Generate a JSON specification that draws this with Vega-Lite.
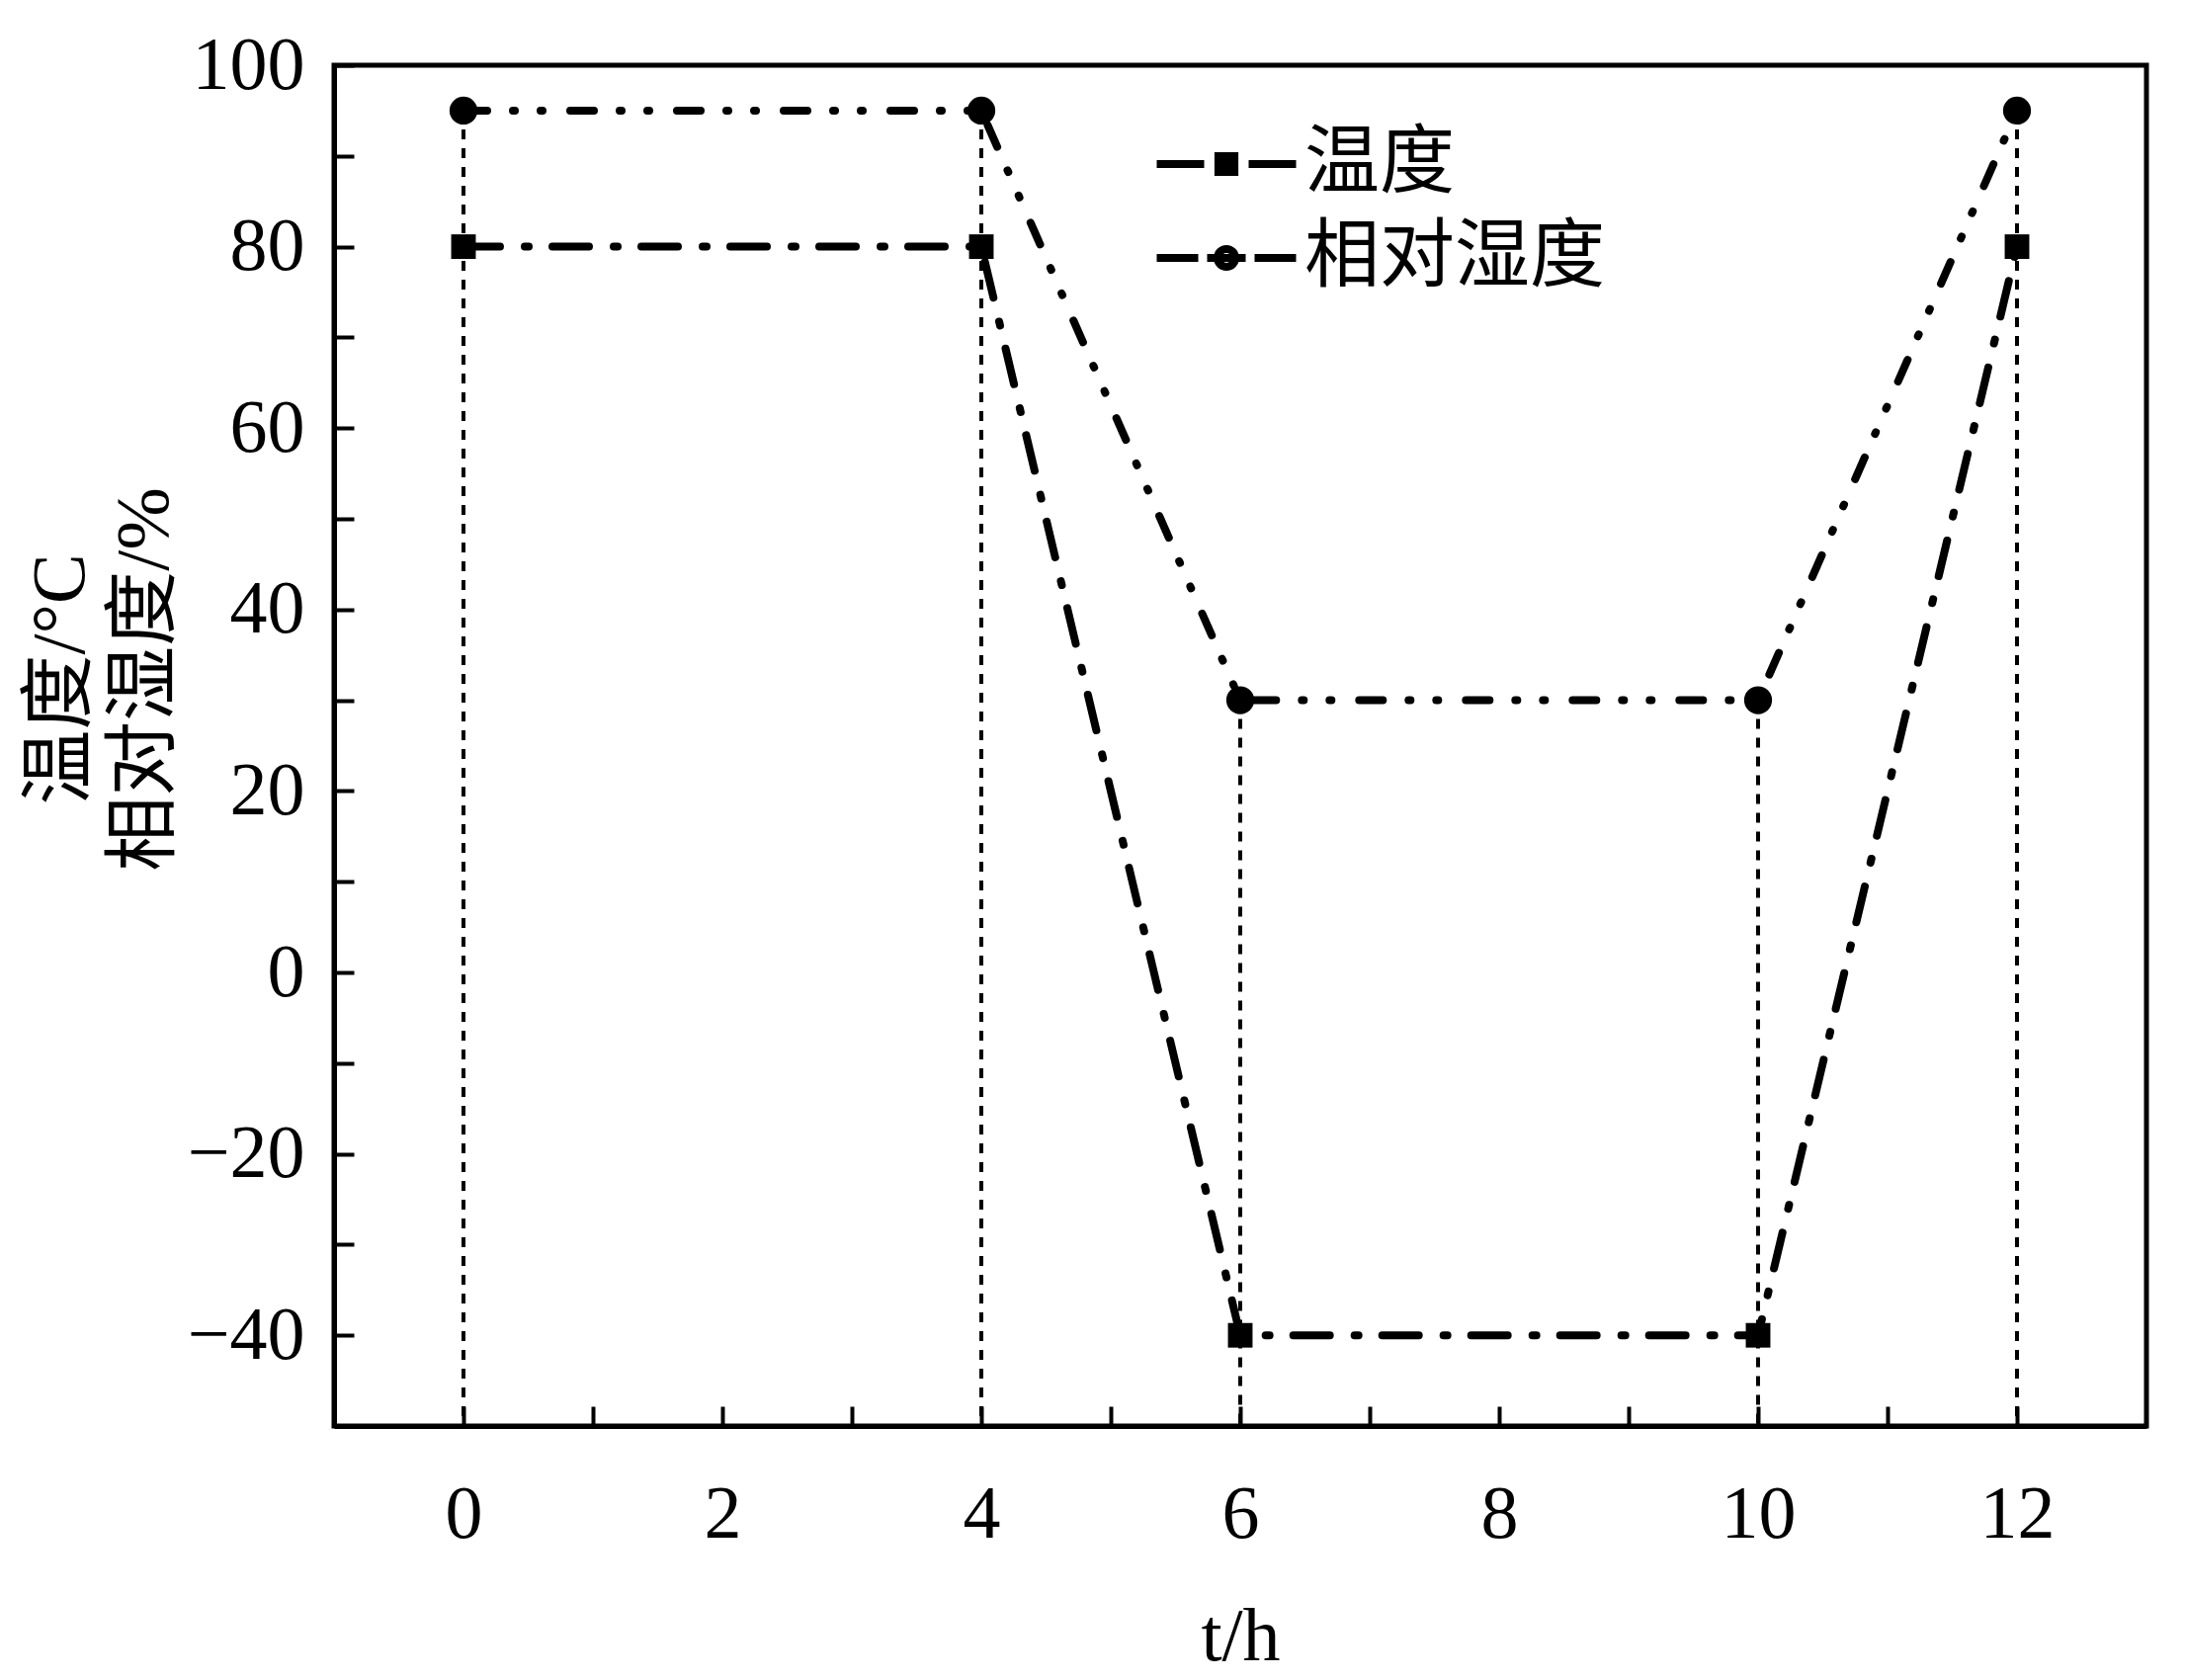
{
  "$schema": "https://vega.github.io/schema/vega-lite/v6.json",
  "autosize": {"type": "none"},
  "padding": {"left": 338, "top": 66, "right": 39, "bottom": 257},
  "width": 1834,
  "height": 1377,
  "background": "white",
  "data": {
    "values": [
      {"t": 0, "series": "温度", "value": 80},
      {"t": 4, "series": "温度", "value": 80},
      {"t": 6, "series": "温度", "value": -40},
      {"t": 10, "series": "温度", "value": -40},
      {"t": 12, "series": "温度", "value": 80},
      {"t": 0, "series": "相对湿度", "value": 95},
      {"t": 4, "series": "相对湿度", "value": 95},
      {"t": 6, "series": "相对湿度", "value": 30},
      {"t": 10, "series": "相对湿度", "value": 30},
      {"t": 12, "series": "相对湿度", "value": 95}
    ]
  },
  "encoding": {
    "x": {
      "field": "t", "type": "quantitative",
      "scale": {"domain": [-1, 13], "nice": false, "zero": false},
      "axis": {
        "title": "t/h",
        "values": [0, 1, 2, 3, 4, 5, 6, 7, 8, 9, 10, 11, 12],
        "labelExpr": "datum.value % 2 === 0 ? datum.label : ''",
        "tickSize": -20,
        "labelPadding": 72,
        "labelFlush": false,
        "labelOverlap": false,
        "titleY": 236,
        "titleBaseline": "alphabetic",
        "encode": {"ticks": {"update": {"y2": {"signal": "datum.value % 2 === 0 ? -20 : -12"}}}}
      }
    },
    "y": {
      "field": "value", "type": "quantitative",
      "scale": {"domain": [-50, 100], "nice": false, "zero": false},
      "axis": {
        "title": ["温度/°C", "相对湿度/%"],
        "values": [-40, -30, -20, -10, 0, 10, 20, 30, 40, 50, 60, 70, 80, 90, 100],
        "labelExpr": "datum.value % 20 === 0 ? replace(datum.label, '-', '−') : ''",
        "tickSize": -20,
        "labelPadding": 50,
        "labelFlush": false,
        "labelOverlap": false,
        "titleX": -238,
        "titleY": 621,
        "titleAngle": -90,
        "titleAlign": "center",
        "titleBaseline": "bottom",
        "titleLineHeight": 85,
        "encode": {"ticks": {"update": {"x2": {"signal": "datum.value % 20 === 0 ? 20 : 12"}}}}
      }
    }
  },
  "layer": [
    {
      "transform": [{"filter": "datum.series === '相对湿度'"}],
      "mark": {"type": "rule", "color": "black", "strokeWidth": 4, "strokeDash": [10, 9]},
      "encoding": {
        "y2": {"datum": -50}
      }
    },
    {
      "transform": [{"filter": "datum.series === '温度'"}],
      "mark": {"type": "line", "color": "black", "strokeWidth": 8, "strokeCap": "round", "strokeDash": [37, 25, 4, 24]}
    },
    {
      "transform": [{"filter": "datum.series === '相对湿度'"}],
      "mark": {"type": "line", "color": "black", "strokeWidth": 8, "strokeCap": "round", "strokeDash": [24, 26, 2, 26, 2, 28]}
    },
    {
      "transform": [{"filter": "datum.series === '温度'"}],
      "mark": {"type": "point", "shape": "square", "filled": true, "color": "black", "size": 620, "opacity": 1}
    },
    {
      "transform": [{"filter": "datum.series === '相对湿度'"}],
      "mark": {"type": "point", "shape": "circle", "filled": true, "color": "black", "size": 800, "opacity": 1}
    },
    {
      "transform": [{"filter": "datum.t === 0"}],
      "mark": {"type": "point", "filled": false, "color": "black", "strokeWidth": 8, "opacity": 0, "size": 3600},
      "encoding": {
        "shape": {
          "field": "series", "type": "nominal",
          "scale": {
            "domain": ["温度", "相对湿度"],
            "range": [
              "M-2.35,0H-0.75M-0.27,-0.27H0.27V0.27H-0.27ZM-0.27,0H0.27M0.75,0H2.35",
              "M-2.35,0H-0.95M-0.65,0H0.65M-0.3,0A0.3,0.3,0,1,1,0.3,0A0.3,0.3,0,1,1,-0.3,0ZM0.95,0H2.35"
            ]
          },
          "legend": {
            "title": null,
            "orient": "none",
            "legendX": 865,
            "legendY": 62,
            "padding": 0,
            "symbolSize": 3600,
            "symbolOpacity": 1,
            "symbolStrokeColor": "black",
            "symbolStrokeWidth": 8,
            "labelOffset": 41,
            "rowPadding": 19,
            "labelFontSize": 76,
            "labelFont": "Liberation Serif, Noto Sans CJK SC",
            "labelColor": "black",
            "labelLimit": 0
          }
        }
      }
    }
  ],
  "config": {
    "view": {"stroke": "black", "strokeWidth": 5},
    "axis": {
      "grid": false,
      "domainColor": "black",
      "domainWidth": 5,
      "tickColor": "black",
      "tickWidth": 4,
      "labelFont": "Liberation Serif, Noto Sans CJK SC",
      "labelFontSize": 76,
      "labelColor": "black",
      "titleFont": "Liberation Serif, Noto Sans CJK SC",
      "titleFontSize": 76,
      "titleFontWeight": "normal",
      "titleColor": "black"
    }
  }
}
